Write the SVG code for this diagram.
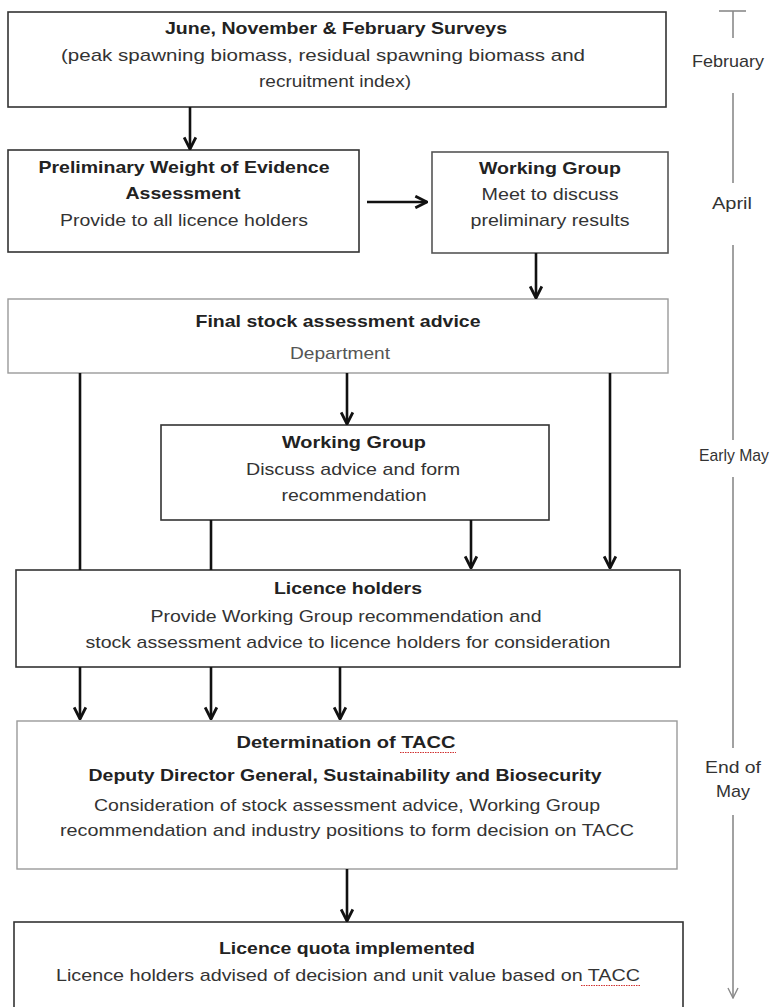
<svg xmlns="http://www.w3.org/2000/svg" width="781" height="1007" viewBox="0 0 781 1007">
<style>
  .box{fill:#fff;stroke:#333;stroke-width:1.6}
  .lbox{fill:#fff;stroke:#9a9a9a;stroke-width:1.4}
  .t{font-family:"Liberation Sans",Arial,sans-serif;font-size:17px;fill:#333;text-anchor:middle}
  .b{font-weight:bold;fill:#222}
  .g{fill:#555}
  .tl{font-family:"Liberation Sans",Arial,sans-serif;font-size:17px;fill:#333;text-anchor:middle}
  .c{stroke:#111;stroke-width:2.6;fill:none}
  .tline{stroke:#8a8a8a;stroke-width:1.6;fill:none}
  .sq{stroke:#d03030;stroke-width:1;fill:none;stroke-dasharray:1.5 1}
</style>
<defs>
  <marker id="ah" viewBox="0 0 12 12" refX="11" refY="6" markerWidth="14" markerHeight="14" markerUnits="userSpaceOnUse" orient="auto">
    <path d="M1,1 L11,6 L1,11" fill="none" stroke="#111" stroke-width="2.4"/>
  </marker>
  <marker id="ahs" viewBox="0 0 12 12" refX="11" refY="6" markerWidth="12" markerHeight="12" markerUnits="userSpaceOnUse" orient="auto">
    <path d="M1,1 L11,6 L1,11" fill="none" stroke="#8a8a8a" stroke-width="1.4"/>
  </marker>
</defs>
<rect width="781" height="1007" fill="#fff"/>

<g id="surveys">
  <rect class="box" x="8" y="12" width="658" height="95"/>
  <text class="t b" x="336" y="34" textLength="342" lengthAdjust="spacingAndGlyphs">June, November &amp; February Surveys</text>
  <text class="t" x="323" y="61" textLength="524" lengthAdjust="spacingAndGlyphs">(peak spawning biomass, residual spawning biomass and</text>
  <text class="t" x="335" y="87" textLength="152" lengthAdjust="spacingAndGlyphs">recruitment index)</text>
</g>

<g id="prelim">
  <rect class="box" x="8" y="150" width="351" height="102"/>
  <text class="t b" x="184" y="173" textLength="291" lengthAdjust="spacingAndGlyphs">Preliminary Weight of Evidence</text>
  <text class="t b" x="183" y="199" textLength="115" lengthAdjust="spacingAndGlyphs">Assessment</text>
  <text class="t" x="184" y="226" textLength="248" lengthAdjust="spacingAndGlyphs">Provide to all licence holders</text>
</g>

<g id="wg1">
  <rect class="box" x="432" y="152" width="236" height="101" style="stroke:#555"/>
  <text class="t b" x="550" y="174" textLength="142" lengthAdjust="spacingAndGlyphs">Working Group</text>
  <text class="t" x="550" y="200" textLength="137" lengthAdjust="spacingAndGlyphs">Meet to discuss</text>
  <text class="t" x="550" y="226" textLength="159" lengthAdjust="spacingAndGlyphs">preliminary results</text>
</g>

<g id="final">
  <rect class="lbox" x="8" y="299" width="660" height="74"/>
  <text class="t b" x="338" y="327" textLength="285" lengthAdjust="spacingAndGlyphs">Final stock assessment advice</text>
  <text class="t g" x="340" y="359" textLength="100" lengthAdjust="spacingAndGlyphs">Department</text>
</g>

<g id="wg2">
  <rect class="box" x="161" y="425" width="388" height="95"/>
  <text class="t b" x="354" y="448" textLength="144" lengthAdjust="spacingAndGlyphs">Working Group</text>
  <text class="t" x="353" y="475" textLength="214" lengthAdjust="spacingAndGlyphs">Discuss advice and form</text>
  <text class="t" x="354" y="501" textLength="145" lengthAdjust="spacingAndGlyphs">recommendation</text>
</g>

<g id="holders">
  <rect class="box" x="16" y="570" width="664" height="97"/>
  <text class="t b" x="348" y="594" textLength="148" lengthAdjust="spacingAndGlyphs">Licence holders</text>
  <text class="t" x="346" y="622" textLength="391" lengthAdjust="spacingAndGlyphs">Provide Working Group recommendation and</text>
  <text class="t" x="348" y="648" textLength="525" lengthAdjust="spacingAndGlyphs">stock assessment advice to licence holders for consideration</text>
</g>

<g id="tacc">
  <rect class="lbox" x="17" y="721" width="660" height="148"/>
  <text class="t b" x="346" y="748" textLength="219" lengthAdjust="spacingAndGlyphs">Determination of TACC</text>
  <path class="sq" d="M400,752.5 L456,752.5"/>
  <text class="t b" x="345" y="781" textLength="513" lengthAdjust="spacingAndGlyphs">Deputy Director General, Sustainability and Biosecurity</text>
  <text class="t" x="347" y="811" textLength="506" lengthAdjust="spacingAndGlyphs">Consideration of stock assessment advice, Working Group</text>
  <text class="t" x="347" y="836" textLength="574" lengthAdjust="spacingAndGlyphs">recommendation and industry positions to form decision on TACC</text>
</g>

<g id="quota">
  <rect class="box" x="14" y="922" width="669" height="95"/>
  <text class="t b" x="347" y="954" textLength="256" lengthAdjust="spacingAndGlyphs">Licence quota implemented</text>
  <text class="t" x="348" y="981" textLength="584" lengthAdjust="spacingAndGlyphs">Licence holders advised of decision and unit value based on TACC</text>
  <path class="sq" d="M581,985.5 L640,985.5"/>
</g>

<g id="connectors">
  <line class="c" x1="190" y1="107" x2="190" y2="149" marker-end="url(#ah)"/>
  <line class="c" x1="367" y1="202" x2="427" y2="202" marker-end="url(#ah)"/>
  <line class="c" x1="536" y1="253" x2="536" y2="298" marker-end="url(#ah)"/>
  <line class="c" x1="347" y1="373" x2="347" y2="424" marker-end="url(#ah)"/>
  <line class="c" x1="80" y1="373" x2="80" y2="570"/>
  <line class="c" x1="610" y1="373" x2="610" y2="568" marker-end="url(#ah)"/>
  <line class="c" x1="211" y1="520" x2="211" y2="570"/>
  <line class="c" x1="471" y1="520" x2="471" y2="568" marker-end="url(#ah)"/>
  <line class="c" x1="80" y1="667" x2="80" y2="719" marker-end="url(#ah)"/>
  <line class="c" x1="211" y1="667" x2="211" y2="719" marker-end="url(#ah)"/>
  <line class="c" x1="340" y1="667" x2="340" y2="719" marker-end="url(#ah)"/>
  <line class="c" x1="347" y1="869" x2="347" y2="921" marker-end="url(#ah)"/>
</g>

<g id="timeline">
  <line class="tline" x1="719" y1="11" x2="746" y2="11"/>
  <line class="tline" x1="733" y1="11" x2="733" y2="38"/>
  <text class="tl" x="728" y="67" textLength="72" lengthAdjust="spacingAndGlyphs">February</text>
  <line class="tline" x1="733" y1="93" x2="733" y2="183"/>
  <text class="tl" x="732" y="209" textLength="40" lengthAdjust="spacingAndGlyphs">April</text>
  <line class="tline" x1="733" y1="245" x2="733" y2="440"/>
  <text class="tl" x="734" y="461" textLength="70" lengthAdjust="spacingAndGlyphs">Early May</text>
  <line class="tline" x1="733" y1="477" x2="733" y2="748"/>
  <text class="tl" x="733" y="773" textLength="56" lengthAdjust="spacingAndGlyphs">End of</text>
  <text class="tl" x="733" y="797" textLength="34" lengthAdjust="spacingAndGlyphs">May</text>
  <line class="tline" x1="733" y1="815" x2="733" y2="998" marker-end="url(#ahs)"/>
</g>
</svg>
